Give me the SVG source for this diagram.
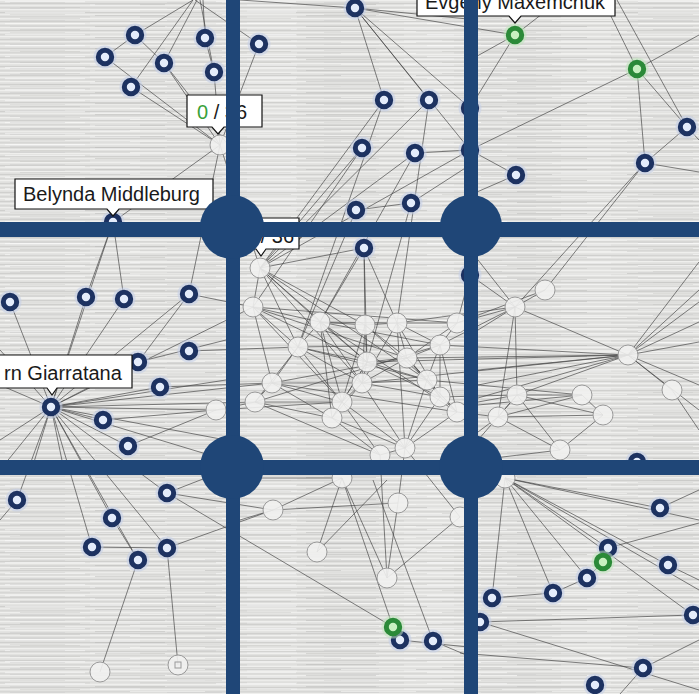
<svg xmlns="http://www.w3.org/2000/svg" xmlns:xlink="http://www.w3.org/1999/xlink" width="699" height="694" viewBox="0 0 699 694">
<defs>
<pattern id="tex" width="699" height="9" patternUnits="userSpaceOnUse">
<rect width="699" height="9" fill="#e0e0de"/>
<rect y="0" width="699" height="1.3" fill="#efefed"/>
<rect y="3" width="699" height="0.9" fill="#cfcfcd"/>
<rect y="5" width="699" height="1.2" fill="#ececea"/>
<rect y="7.4" width="699" height="0.8" fill="#d2d2d0"/>
</pattern>
<pattern id="tex2" width="211" height="11" patternUnits="userSpaceOnUse">
<rect x="5" y="1" width="80" height="1.2" fill="#ffffff" opacity="0.45"/>
<rect x="95" y="4" width="70" height="1.1" fill="#b9b9b7" opacity="0.45"/>
<rect x="20" y="7" width="60" height="1" fill="#c2c2c0" opacity="0.4"/>
<rect x="130" y="9" width="75" height="1" fill="#f8f8f6" opacity="0.55"/>
</pattern>
<pattern id="tex3" width="157" height="6" patternUnits="userSpaceOnUse">
<rect x="10" y="2" width="55" height="1" fill="#c6c6c4" opacity="0.35"/>
<rect x="90" y="4.5" width="50" height="1" fill="#ffffff" opacity="0.4"/>
</pattern>
<g id="blue"><circle r="11.5" fill="#c3cde8" opacity="0.55"/><circle r="6.7" fill="#e4ecfb" stroke="#1d3261" stroke-width="5"/></g>
<g id="green"><circle r="11.5" fill="#c0e4bc" opacity="0.55"/><circle r="6.7" fill="#c8f0c0" stroke="#2b8a38" stroke-width="5"/></g>
<g id="white"><circle r="10" fill="#f1f1f0" fill-opacity="0.9" stroke="#9a9a9a" stroke-width="1"/></g>
</defs>
<style>
.e{stroke:#444444;stroke-width:0.85;stroke-opacity:0.8;fill:none}
.lb{fill:#ffffff;stroke:#111111;stroke-width:1.2}
.lt{font-family:"Liberation Sans",Arial,sans-serif;font-size:20px;fill:#1a1a1a}
.grid{fill:#1f4677}
</style>
<rect width="699" height="694" fill="url(#tex)"/>
<rect width="699" height="694" fill="url(#tex2)"/>
<rect width="699" height="694" fill="url(#tex3)"/>
<g id="connectors">
<path class="e" d="M193 0L135 35M193 0L131 87M197 0L164 63M200 0L214 72M203 0L205 38M105 57L135 35M135 35L164 63M105 57L220 145M131 87L220 145M164 63L220 145M164 63L232 150M205 38L214 72M214 72L220 145M220 145L113 222M220 145L260 268M220 145L189 294M259 44L220 145M259 44L195 0"/>
<path class="e" d="M355 8L384 100M355 8L429 100M355 8L470 108M355 8L470 150M355 8L515 35M355 8L240 0M355 8L478 20M260 268L384 100M260 268L429 100M260 268L415 153M260 268L470 150M260 268L362 148M415 153L470 150M411 203L470 165M411 203L356 210M356 210L298 347M411 203L367 362M415 153L320 322M362 148L253 307M384 100L298 347M429 100L397 323M364 248L260 268M364 248L320 322M364 248L397 323M364 248L367 362M364 248L365 325"/>
<path class="e" d="M515 35L470 108M515 35L560 0M515 35L470 60M603 0L637 69M617 0L687 127M637 69L645 163M637 69L699 35M637 69L470 150M637 69L687 127M645 163L687 127M645 163L699 172M645 163L515 307M645 163L545 290M516 175L470 150M516 175L470 195M687 127L699 140"/>
<path class="e" d="M51 407L10 302M51 407L86 297M51 407L124 299M51 407L189 294M51 407L138 362M51 407L160 387M51 407L103 420M51 407L128 446M51 407L216 410M51 407L0 350M51 407L0 385M51 407L0 440M51 407L0 470M51 407L17 500M51 407L112 518M51 407L92 547M51 407L138 560M51 407L167 548M51 407L167 493M51 407L30 475M51 407L65 475M51 407L253 307M51 407L272 383M51 407L255 402M51 407L226 440M51 407L113 222M51 407L226 460M51 407L226 380M113 222L86 297M113 222L124 299M189 294L138 362M189 294L253 307M189 351L298 347M160 387L272 383M103 420L216 410M128 446L216 410M216 410L255 402M216 410L342 402M138 362L226 340"/>
<path class="e" d="M112 518L138 560M92 547L167 548M138 560L100 672M167 548L178 665M167 548L273 510M167 493L273 510M167 493L393 627M167 493L226 470M17 500L0 520"/>
<path class="e" d="M260 268L253 307M260 268L320 322M260 268L298 347M260 268L365 325M260 268L367 362M260 268L427 380M260 268L362 383M253 307L320 322M253 307L298 347M253 307L272 383M253 307L367 362M253 307L407 358M253 307L342 402M320 322L365 325M320 322L397 323M320 322L298 347M320 322L367 362M320 322L362 383M320 322L332 418M320 322L342 402M320 322L440 345M365 325L397 323M365 325L367 362M365 325L407 358M365 325L362 383M365 325L427 380M365 325L342 402M397 323L457 323M397 323L407 358M397 323L440 345M397 323L362 383M397 323L440 397M397 323L405 448M457 323L440 345M457 323L407 358M457 323L470 275M457 323L515 307M298 347L367 362M298 347L272 383M298 347L362 383M298 347L342 402M298 347L255 402M298 347L440 345M367 362L407 358M367 362L362 383M367 362L427 380M367 362L440 397M367 362L342 402M367 362L332 418M407 358L440 345M407 358L427 380M407 358L440 397M407 358L457 412M407 358L362 383M440 345L427 380M440 345L440 397M440 345L457 412M272 383L255 402M272 383L362 383M272 383L342 402M272 383L332 418M272 383L407 358M255 402L342 402M255 402L332 418M255 402L380 455M362 383L427 380M362 383L342 402M362 383L332 418M362 383L405 448M362 383L440 397M427 380L440 397M427 380L405 448M427 380L457 412M440 397L457 412M440 397L405 448M342 402L332 418M342 402L405 448M342 402L380 455M332 418L380 455M332 418L405 448M405 448L380 455M405 448L457 412M457 323L545 290M440 345L515 307M407 358L628 355M367 362L628 355M440 397L517 395M427 380L582 395M457 412L498 417M362 383L628 355M440 345L628 355M397 323L515 307M253 307L457 323M272 383L457 412M298 347L427 380M320 322L457 412M255 402L440 345"/>
<path class="e" d="M545 290L515 307M515 307L470 275M515 307L628 355M515 307L517 395M515 307L498 417M515 307L478 330M515 307L478 260M628 355L517 395M628 355L478 370M628 355L478 385M628 355L478 398M628 355L672 390M628 355L699 290M628 355L699 262M628 355L699 302M628 355L699 322M628 355L699 385M628 355L699 410M628 355L699 342M517 395L582 395M517 395L498 417M517 395L560 450M517 395L478 402M517 395L478 440M517 395L603 415M582 395L603 415M582 395L478 405M582 395L498 417M498 417L560 450M498 417L603 415M498 417L478 432M603 415L560 450M560 450L478 460M672 390L699 430"/>
<path class="e" d="M273 510L342 478M273 510L398 503M273 510L240 520M317 552L342 478M317 552L387 480M387 578L398 503M387 578L342 478M387 578L460 517M342 478L393 627M373 480L433 641M405 448L398 503M380 455L387 578M405 448L460 517M433 641L478 660M400 640L478 648M342 478L240 478"/>
<path class="e" d="M505 478L492 598M505 478L553 593M505 478L587 578M505 478L608 548M505 478L668 565M505 478L693 615M505 478L699 520M505 478L699 590M505 478L660 508M660 508L699 490M492 598L553 593M553 593L587 578M587 578L603 562M603 562L608 548M608 548L699 523M668 565L699 580M480 622L693 615M460 653L643 668M643 668L620 694M643 668L699 640M480 622L699 690"/>
</g>
<g id="nodes">
<g id="b1" transform="translate(135,35)"><use href="#blue"/></g>
<g id="b2" transform="translate(105,57)"><use href="#blue"/></g>
<g id="b3" transform="translate(164,63)"><use href="#blue"/></g>
<g id="b4" transform="translate(131,87)"><use href="#blue"/></g>
<g id="b5" transform="translate(205,38)"><use href="#blue"/></g>
<g id="b6" transform="translate(214,72)"><use href="#blue"/></g>
<g id="b7" transform="translate(259,44)"><use href="#blue"/></g>
<g id="b8" transform="translate(355,8)"><use href="#blue"/></g>
<g id="b9" transform="translate(384,100)"><use href="#blue"/></g>
<g id="b10" transform="translate(429,100)"><use href="#blue"/></g>
<g id="b11" transform="translate(362,148)"><use href="#blue"/></g>
<g id="b12" transform="translate(415,153)"><use href="#blue"/></g>
<g id="b13" transform="translate(411,203)"><use href="#blue"/></g>
<g id="b14" transform="translate(356,210)"><use href="#blue"/></g>
<g id="b15" transform="translate(470,108)"><use href="#blue"/></g>
<g id="b16" transform="translate(470,150)"><use href="#blue"/></g>
<g id="b17" transform="translate(364,248)"><use href="#blue"/></g>
<g id="b18" transform="translate(516,175)"><use href="#blue"/></g>
<g id="b19" transform="translate(645,163)"><use href="#blue"/></g>
<g id="b20" transform="translate(687,127)"><use href="#blue"/></g>
<g id="b21" transform="translate(10,302)"><use href="#blue"/></g>
<g id="b22" transform="translate(86,297)"><use href="#blue"/></g>
<g id="b23" transform="translate(124,299)"><use href="#blue"/></g>
<g id="b24" transform="translate(189,294)"><use href="#blue"/></g>
<g id="b25" transform="translate(189,351)"><use href="#blue"/></g>
<g id="b26" transform="translate(138,362)"><use href="#blue"/></g>
<g id="b27" transform="translate(160,387)"><use href="#blue"/></g>
<g id="b28" transform="translate(103,420)"><use href="#blue"/></g>
<g id="b29" transform="translate(128,446)"><use href="#blue"/></g>
<g id="b30" transform="translate(51,407)"><use href="#blue"/></g>
<g id="b31" transform="translate(17,500)"><use href="#blue"/></g>
<g id="b32" transform="translate(167,493)"><use href="#blue"/></g>
<g id="b33" transform="translate(112,518)"><use href="#blue"/></g>
<g id="b34" transform="translate(92,547)"><use href="#blue"/></g>
<g id="b35" transform="translate(138,560)"><use href="#blue"/></g>
<g id="b36" transform="translate(167,548)"><use href="#blue"/></g>
<g id="b37" transform="translate(400,640)"><use href="#blue"/></g>
<g id="b38" transform="translate(433,641)"><use href="#blue"/></g>
<g id="b39" transform="translate(660,508)"><use href="#blue"/></g>
<g id="b40" transform="translate(608,548)"><use href="#blue"/></g>
<g id="b41" transform="translate(587,578)"><use href="#blue"/></g>
<g id="b42" transform="translate(668,565)"><use href="#blue"/></g>
<g id="b43" transform="translate(553,593)"><use href="#blue"/></g>
<g id="b44" transform="translate(492,598)"><use href="#blue"/></g>
<g id="b45" transform="translate(480,622)"><use href="#blue"/></g>
<g id="b46" transform="translate(693,615)"><use href="#blue"/></g>
<g id="b47" transform="translate(643,668)"><use href="#blue"/></g>
<g id="b48" transform="translate(595,685)"><use href="#blue"/></g>
<g id="b49" transform="translate(113,222)"><use href="#blue"/></g>
<g id="b50" transform="translate(637,462)"><use href="#blue"/></g>
<g id="b51" transform="translate(470,275)"><use href="#blue"/></g>
<g id="g1" transform="translate(515,35)"><use href="#green"/></g>
<g id="g2" transform="translate(637,69)"><use href="#green"/></g>
<g id="g3" transform="translate(393,627)"><use href="#green"/></g>
<g id="g4" transform="translate(603,562)"><use href="#green"/></g>
<g id="w1" transform="translate(220,145)"><use href="#white"/></g>
<g id="w2" transform="translate(260,268)"><use href="#white"/></g>
<g id="w3" transform="translate(253,307)"><use href="#white"/></g>
<g id="w4" transform="translate(320,322)"><use href="#white"/></g>
<g id="w5" transform="translate(365,325)"><use href="#white"/></g>
<g id="w6" transform="translate(397,323)"><use href="#white"/></g>
<g id="w7" transform="translate(457,323)"><use href="#white"/></g>
<g id="w8" transform="translate(298,347)"><use href="#white"/></g>
<g id="w9" transform="translate(367,362)"><use href="#white"/></g>
<g id="w10" transform="translate(407,358)"><use href="#white"/></g>
<g id="w11" transform="translate(440,345)"><use href="#white"/></g>
<g id="w12" transform="translate(272,383)"><use href="#white"/></g>
<g id="w13" transform="translate(255,402)"><use href="#white"/></g>
<g id="w14" transform="translate(362,383)"><use href="#white"/></g>
<g id="w15" transform="translate(427,380)"><use href="#white"/></g>
<g id="w16" transform="translate(440,397)"><use href="#white"/></g>
<g id="w17" transform="translate(342,402)"><use href="#white"/></g>
<g id="w18" transform="translate(332,418)"><use href="#white"/></g>
<g id="w19" transform="translate(405,448)"><use href="#white"/></g>
<g id="w20" transform="translate(457,412)"><use href="#white"/></g>
<g id="w21" transform="translate(545,290)"><use href="#white"/></g>
<g id="w22" transform="translate(515,307)"><use href="#white"/></g>
<g id="w23" transform="translate(628,355)"><use href="#white"/></g>
<g id="w24" transform="translate(672,390)"><use href="#white"/></g>
<g id="w25" transform="translate(517,395)"><use href="#white"/></g>
<g id="w26" transform="translate(582,395)"><use href="#white"/></g>
<g id="w27" transform="translate(498,417)"><use href="#white"/></g>
<g id="w28" transform="translate(603,415)"><use href="#white"/></g>
<g id="w29" transform="translate(560,450)"><use href="#white"/></g>
<g id="w30" transform="translate(216,410)"><use href="#white"/></g>
<g id="w31" transform="translate(273,510)"><use href="#white"/></g>
<g id="w32" transform="translate(317,552)"><use href="#white"/></g>
<g id="w33" transform="translate(387,578)"><use href="#white"/></g>
<g id="w34" transform="translate(398,503)"><use href="#white"/></g>
<g id="w35" transform="translate(342,478)"><use href="#white"/></g>
<g id="w36" transform="translate(460,517)"><use href="#white"/></g>
<g id="w37" transform="translate(100,672)"><use href="#white"/></g>
<g id="w38" transform="translate(178,665)"><use href="#white"/><rect x="-3" y="-3" width="6" height="6" fill="none" stroke="#9a9a9a" stroke-width="1"/></g>
<g id="w39" transform="translate(505,478)"><use href="#white"/></g>
<g id="w40" transform="translate(380,455)"><use href="#white"/></g>
</g>
<g id="labels">
<g id="label-belynda"><path class="lb" d="M15 179H213V209H119L113 216L107 209H15Z"/><text class="lt" x="23" y="201" font-size="20.5">Belynda Middleburg</text></g>
<g id="label-giarratana"><path class="lb" d="M-2 355H132V388H57L52 395L47 388H-2Z"/><text class="lt" x="4" y="380" font-size="19.5">rn Giarratana</text></g>
<g id="label-evgeny"><path class="lb" d="M417 -5H615V16H521L515 23L509 16H417Z"/><text class="lt" x="425" y="9">Evgeny Maxemchuk</text></g>
<g id="label-count1"><path class="lb" d="M187 95H262V127H224L218 134L212 127H187Z"/><text class="lt" x="197" y="119" font-size="22"><tspan fill="#3aa13a">0</tspan> / 36</text></g>
<g id="label-count2"><path class="lb" d="M238 218H299V249H266L261 256L256 249H238Z"/><text class="lt" x="244" y="243" font-size="22"><tspan fill="#3aa13a">0</tspan> / 36</text></g>
</g>
<g id="grid" class="grid">
<rect x="226" y="0" width="14" height="694"/>
<rect x="464" y="0" width="14" height="694"/>
<rect x="0" y="222" width="699" height="15"/>
<rect x="0" y="460" width="699" height="15"/>
<circle cx="232" cy="227" r="32"/>
<circle cx="471" cy="226" r="31"/>
<circle cx="232" cy="467" r="32"/>
<circle cx="471" cy="467" r="32"/>
</g>
</svg>
